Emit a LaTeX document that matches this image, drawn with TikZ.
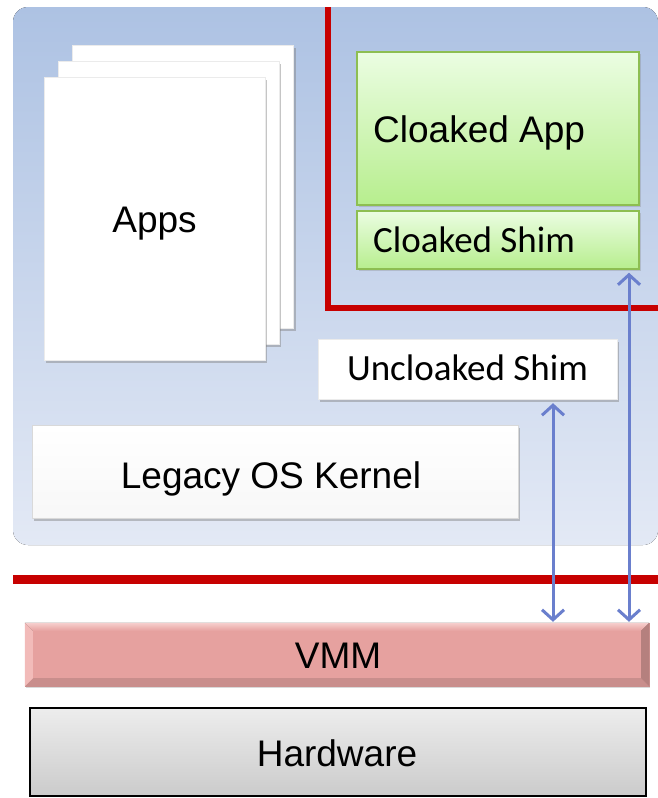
\documentclass[tikz,border=0pt]{standalone}
\usepackage{fontspec}
\setmainfont{Liberation Sans}
\newfontfamily\calfont{Carlito}
\usetikzlibrary{arrows.meta,shadows,calc}

\definecolor{bgtop}{HTML}{ADC2E3}
\definecolor{bgbot}{HTML}{E3E9F5}
\definecolor{cloakred}{HTML}{C70000}
\definecolor{greentop}{HTML}{EBFDE2}
\definecolor{greenbot}{HTML}{B7EE8E}
\definecolor{greenline}{HTML}{8DBE52}
\definecolor{vmmfill}{HTML}{E6A19F}
\definecolor{vmmlight}{HTML}{F2BBB9}
\definecolor{vmmdark}{HTML}{C98E8C}
\definecolor{hwtop}{HTML}{EDEDED}
\definecolor{hwbot}{HTML}{CBCBCB}
\definecolor{arrowblue}{HTML}{6A7FCD}

\tikzset{
  whitebox/.style={draw=black!8, fill=white, inner sep=0pt,
    drop shadow={shadow xshift=2pt, shadow yshift=-3pt, opacity=0.45}},
  greenbox/.style={draw=greenline, line width=1.5pt, top color=greentop,
    bottom color=greenbot, inner sep=0pt,
    drop shadow={shadow xshift=1.5pt, shadow yshift=-2pt, opacity=0.3}},
  label/.style={inner sep=0pt, anchor=base},
  bigtext/.style={label, font=\fontsize{37}{40}\selectfont},
  shimtext/.style={label, font=\calfont\fontsize{37}{40}\selectfont},
  redline/.style={draw=cloakred, line cap=butt},
  link/.style={draw=arrowblue, line width=3pt,
    {Straight Barb[length=10pt,width=22pt]}-{Straight Barb[length=10pt,width=22pt]}},
}

\begin{document}
\begin{tikzpicture}[x=1pt,y=-1pt]
\useasboundingbox (0,0) rectangle (658,798);

% guest area
\fill[top color=bgtop, bottom color=bgbot, rounded corners=15pt]
  (13,7) rectangle (658,545);

% application pages
\node[whitebox, minimum width=221pt, minimum height=283pt] (page3) at (183,186.5) {};
\node[whitebox, minimum width=221pt, minimum height=283pt] (page2) at (168.5,202.5) {};
\node[whitebox, minimum width=221pt, minimum height=283pt] (apps) at (154.5,218.5) {};
\node[bigtext] (appstext) at (154.5,232) {Apps};

% cloaked region
\node[greenbox, minimum width=282pt, minimum height=153pt] (capp) at (498,128.5) {};
\node[bigtext, anchor=base west] (capptext) at (373,142) {Cloaked App};
\node[greenbox, minimum width=282pt, minimum height=58pt] (cshim) at (498,240) {};
\node[shimtext, anchor=base west] (cshimtext) at (373,252) {Cloaked Shim};

\draw[redline, line width=6pt] (328,7) -- (328,308) -- (658,308);

% uncloaked shim and kernel
\node[whitebox, minimum width=299pt, minimum height=60pt] (ushim) at (467.5,369) {};
\node[shimtext] (ushimtext) at (467.5,380) {Uncloaked Shim};
\node[whitebox, draw=black!15, minimum width=486pt, minimum height=93pt,
  top color=white, bottom color=black!3] (kernel) at (275,471.5) {};
\node[bigtext] (kerneltext) at (271,488) {Legacy OS Kernel};

% boundary above the VMM
\draw[redline, line width=9pt] (13,579.5) -- (658,579.5);

% VMM with bevelled edges
\node[draw=vmmdark, fill=vmmfill, minimum width=624pt, minimum height=63pt,
  inner sep=0pt, drop shadow={shadow xshift=1pt, shadow yshift=-2pt, opacity=0.3}]
  (vmm) at (337,654.5) {};
\fill[top color=vmmlight!70!white, bottom color=vmmfill]
  (vmm.north west) -- (vmm.north east) -- ($(vmm.north east)+(-8,8)$)
  -- ($(vmm.north west)+(8,8)$) -- cycle;
\fill[vmmdark] (vmm.south west) -- (vmm.south east) -- ($(vmm.south east)+(-8,-8)$)
  -- ($(vmm.south west)+(8,-8)$) -- cycle;
\fill[vmmlight] (vmm.north west) -- ($(vmm.north west)+(8,8)$)
  -- ($(vmm.south west)+(8,-8)$) -- (vmm.south west) -- cycle;
\fill[vmmdark!90!black] (vmm.north east) -- ($(vmm.north east)+(-8,8)$)
  -- ($(vmm.south east)+(-8,-8)$) -- (vmm.south east) -- cycle;
\node[bigtext] (vmmtext) at (338,668) {VMM};

% hardware
\node[draw=black, line width=2pt, top color=hwtop, bottom color=hwbot,
  minimum width=616pt, minimum height=88pt, inner sep=0pt] (hw) at (338,752) {};
\node[bigtext] (hwtext) at (337,766) {Hardware};

% calls from the shims to the VMM
\coordinate (ua) at (553,0);
\coordinate (ca) at (629,0);
\draw[link] ([yshift=-4pt]ushim.south -| ua) -- ([yshift=1pt]vmm.north -| ua);
\draw[link] ([yshift=-3pt]cshim.south -| ca) -- ([yshift=1pt]vmm.north -| ca);
\end{tikzpicture}
\end{document}
